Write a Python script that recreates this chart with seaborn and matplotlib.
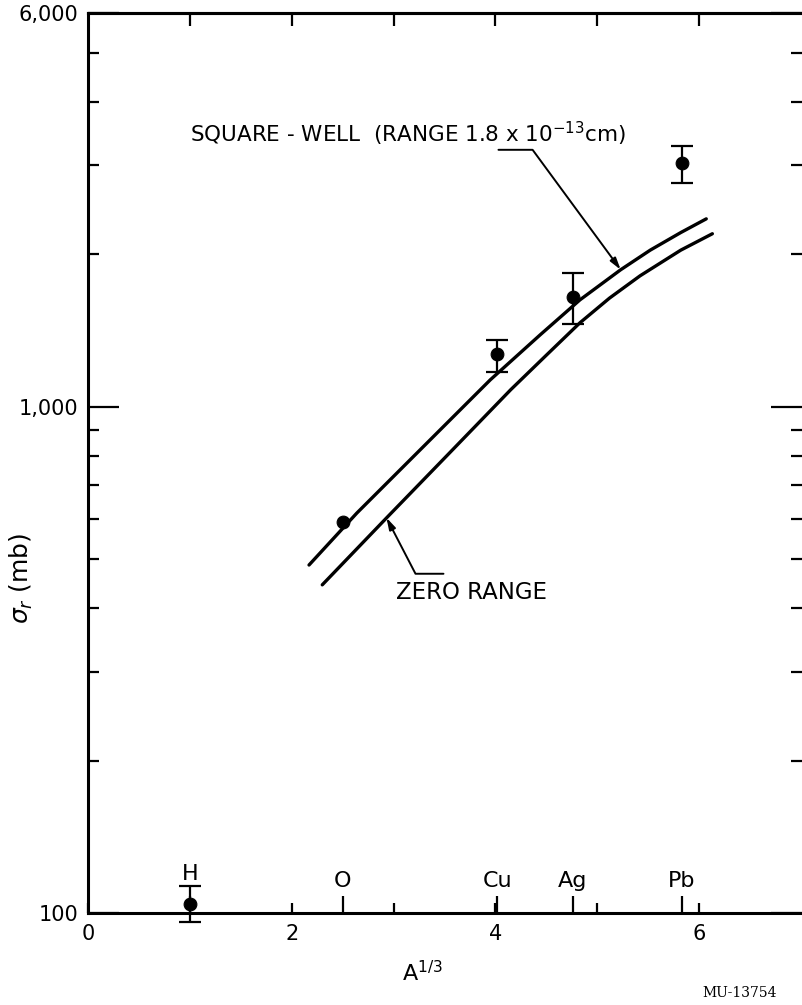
import numpy as np
import matplotlib
matplotlib.use("Agg")
import matplotlib.pyplot as plt
import seaborn as sns
from matplotlib.ticker import FixedLocator, FixedFormatter, NullFormatter

# datos
elementos = ['H', 'O', 'Cu', 'Ag', 'Pb']
a_tercio = [1.0, 2.5, 4.02, 4.76, 5.83]
sigma_r = [104, 593, 1273, 1649, 3036]
err_sup = [113, np.nan, 1357, 1840, 3280]
err_inf = [96, np.nan, 1173, 1459, 2772]

# curvas teoricas
pozo_x = [2.17, 2.64, 3.26, 3.95, 4.44, 4.83, 5.23, 5.52, 5.82, 6.07]
pozo_y = [487, 617, 822, 1131, 1388, 1627, 1866, 2040, 2210, 2352]
cero_x = [2.30, 2.94, 3.56, 4.15, 4.50, 4.83, 5.12, 5.42, 5.82, 6.13]
cero_y = [445, 606, 815, 1081, 1265, 1466, 1640, 1815, 2040, 2198]

xticks_inf = [0, 2, 3, 4, 5, 6]
xticklabels_inf = ['0', '2', '', '4', '', '6']
xticks_sup = [1, 2, 3, 4, 5, 6]
yticks = [100, 1000, 6000]
yticklabels = ['100', '1,000', '6,000']
yticks_menores = [200, 300, 400, 500, 600, 700, 800, 900, 2000, 3000, 4000, 5000]

sns.set_style('ticks')
plt.rcParams['font.family'] = ['DejaVu Sans']
for clave in ['text.color', 'axes.labelcolor', 'xtick.color', 'ytick.color', 'axes.edgecolor']:
    plt.rcParams[clave] = 'black'

fig = plt.figure(figsize=(8.02, 10.05), dpi=100)
ax = fig.add_axes([88 / 802, 92 / 1005, 714 / 802, 900 / 1005])
ax.set_yscale('log')

sns.lineplot(x=pozo_x, y=pozo_y, color='black', lw=2.4, ax=ax, sort=False)
sns.lineplot(x=cero_x, y=cero_y, color='black', lw=2.4, ax=ax, sort=False)

# barras de error (solo donde existen)
ea = np.array(a_tercio)
es = np.array(sigma_r, dtype=float)
hi = np.array(err_sup)
lo = np.array(err_inf)
m = ~np.isnan(hi)
cont = ax.errorbar(ea[m], es[m], yerr=[es[m] - lo[m], hi[m] - es[m]], fmt='none',
                   ecolor='black', elinewidth=1.6, capsize=8, capthick=1.6)
for art in list(cont.lines[1]) + list(cont.lines[2]):
    art.set_clip_on(False)

sns.scatterplot(x=a_tercio, y=sigma_r, color='black', s=85, edgecolor='black',
                zorder=4, ax=ax, clip_on=False)

ax.set_xlim(0, 7.01)
ax.set_ylim(100, 6000)

# ejes
for lado in ['left', 'bottom', 'top']:
    ax.spines[lado].set_linewidth(2.2)
ax.spines['right'].set_visible(False)

ax.yaxis.set_major_locator(FixedLocator(yticks))
ax.yaxis.set_major_formatter(FixedFormatter(yticklabels))
ax.yaxis.set_minor_locator(FixedLocator(yticks_menores))
ax.yaxis.set_minor_formatter(NullFormatter())
ax.tick_params(axis='y', which='major', direction='in', length=22, width=1.6,
               right=True, labelsize=15, pad=7)
ax.tick_params(axis='y', which='minor', direction='in', length=8, width=1.6, right=True)

ax.xaxis.set_major_locator(FixedLocator(xticks_inf))
ax.xaxis.set_major_formatter(FixedFormatter(xticklabels_inf))
ax.xaxis.set_minor_locator(FixedLocator(a_tercio))
ax.xaxis.set_minor_formatter(NullFormatter())
ax.tick_params(axis='x', which='major', direction='in', length=7, width=1.6,
               labelsize=15, pad=8)
ax.tick_params(axis='x', which='minor', direction='in', length=12, width=1.6)

sup = ax.secondary_xaxis('top')
sup.set_xticks(xticks_sup)
sup.tick_params(direction='in', length=9, width=1.6, labeltop=False)
sup.spines['top'].set_linewidth(2.2)

# etiquetas de elementos
for el, xv in zip(elementos, a_tercio):
    dy = 24 if el == 'H' else 19
    ax.annotate(el, xy=(xv, 100), xytext=(0, dy), textcoords='offset points',
                ha='center', va='baseline', fontsize=16)

ax.set_xlabel(r'A$^{1/3}$', fontsize=16)
ax.xaxis.set_label_coords(0.468, -0.052)
ax.set_ylabel(r'$\sigma_r$ (mb)', fontsize=18)
ax.yaxis.set_label_coords(-0.074, 0.372)

# anotaciones
ax.text(1.0, 3327, r'SQUARE - WELL  (RANGE 1.8 x 10$^{-13}$cm)', fontsize=15.5,
        ha='left', va='baseline')
ax.annotate('', xy=(5.23, 1866), xytext=(4.03, 3220),
            arrowprops=dict(arrowstyle='-|>,head_length=0.7,head_width=0.2', color='black',
                            lw=1.4, shrinkA=0, shrinkB=0,
                            connectionstyle='angle,angleA=0,angleB=126.3,rad=0'))
ax.text(3.02, 430, 'ZERO RANGE', fontsize=16.5, ha='left', va='center')
ax.annotate('', xy=(2.93, 604), xytext=(3.49, 468),
            arrowprops=dict(arrowstyle='-|>,head_length=0.7,head_width=0.2', color='black',
                            lw=1.4, shrinkA=0, shrinkB=0,
                            connectionstyle='angle,angleA=0,angleB=-62.6,rad=0'))

fig.text(740 / 802, 1 - 993 / 1005, 'MU-13754', fontsize=10, family='DejaVu Serif',
         ha='center', va='center')

fig.savefig('out.png', dpi=100)
